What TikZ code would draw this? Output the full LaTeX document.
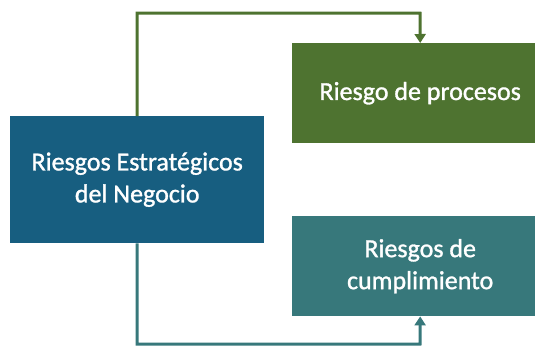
\documentclass[tikz,border=0pt]{standalone}
\usepackage{fontspec}
\setmainfont{Carlito}
\newfontfamily\cajafont[FakeBold=1.2]{Carlito}
\usetikzlibrary{arrows.meta}
\definecolor{azul}{HTML}{175E80}
\definecolor{verde}{HTML}{4E7330}
\definecolor{turquesa}{HTML}{37787B}
\begin{document}
\begin{tikzpicture}[x=1pt,y=-1pt,
		caja/.style={rectangle,inner sep=0pt,anchor=north west,text=white,align=center,
			font=\cajafont\fontsize{26}{32}\selectfont},
		flecha/.style={line width=3pt,-{Triangle[width=11pt,length=9pt]}}]
		\useasboundingbox (0,0) rectangle (535,346);
		\node [caja,fill=azul,minimum width=254pt,minimum height=127pt] (negocio) at (10,116) {Riesgos Estratégicos\\del Negocio};
		\node [caja,fill=verde,minimum width=256pt,minimum height=100pt] (procesos) at (292,43) {Riesgo de procesos};
		\node [caja,fill=turquesa,minimum width=256pt,minimum height=100pt] (cumplimiento) at (292,216) {Riesgos de\\cumplimiento};
		\coordinate (arriba) at (420,13);
		\coordinate (abajo) at (420,344);
		\draw [flecha,verde] (negocio.north) |- (arriba) -- (procesos.north);
		\draw [flecha,turquesa] (negocio.south) |- (abajo) -- (cumplimiento.south);
	\end{tikzpicture}
\end{document}
